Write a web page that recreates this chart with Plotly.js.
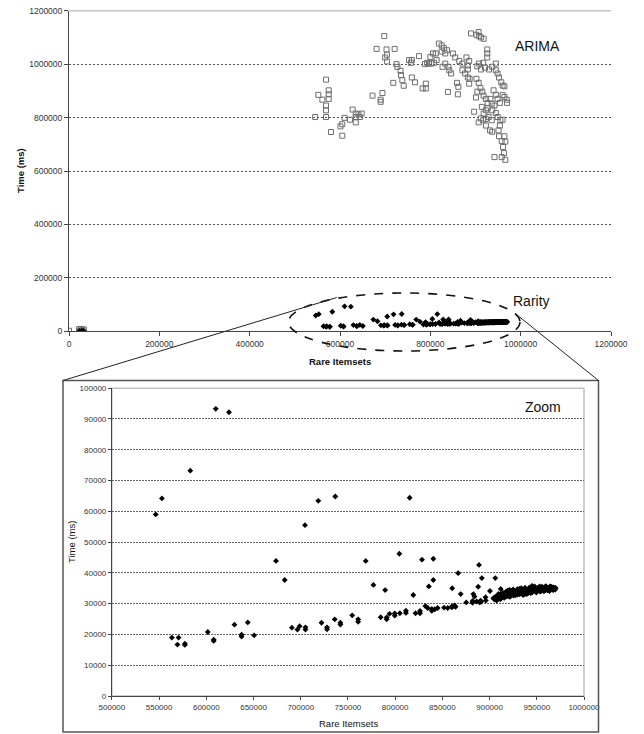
<!DOCTYPE html>
<html>
<head>
<meta charset="utf-8">
<script src="https://cdn.plot.ly/plotly-3.0.1.min.js"></script>
<style>html,body{margin:0;padding:0;background:#fff;}#chart{width:644px;height:734px;}</style>
</head>
<body>
<div id="chart"></div>
<script>
// ARIMA series (Rare Itemsets, Time ms)
const arimaX = [0,22000,24000,27000,30000,33000,
545000,552000,561000,569000,575000,575000,575000,569000,569000,569000,580000,601000,605000,605000,610000,622000,628000,635000,635000,635000,641000,648000,644000,
672000,690000,690000,694000,681000,698000,703000,704000,700000,721000,
704000,718000,725000,727000,734000,735000,738000,741000,753000,759000,
757000,759000,766000,775000,783000,790000,790000,788000,793000,797000,
800000,802000,806000,808000,812000,814000,819000,825000,830000,825000,
833000,837000,827000,833000,840000,842000,846000,839000,850000,855000,
864000,871000,880000,886000,859000,862000,861000,871000,877000,883000,
883000,883000,887000,886000,890000,902000,907000,908000,912000,918000,
897000,901000,904000,907000,904000,908000,912000,917000,921000,930000,
902000,907000,911000,915000,918000,926000,926000,926000,914000,918000,
923000,927000,912000,917000,923000,929000,936000,923000,937000,945000,
945000,949000,952000,957000,960000,964000,940000,945000,949000,954000,
942000,937000,945000,949000,955000,960000,954000,951000,960000,964000,
969000,970000,932000,937000,952000,964000,958000,966000,961000,942000,
958000,963000,966000,933000,936000,927000,923000];
const arimaY = [2000,8000,3000,9000,4000,7000,
802000,885000,867000,942000,902000,887000,870000,845000,827000,802000,746000,767000,775000,732000,799000,792000,830000,815000,802000,782000,812000,815000,802000,
882000,859000,867000,892000,1057000,1105000,1055000,1035000,1025000,1057000,
1010000,930000,1000000,990000,975000,959000,940000,919000,1015000,1015000,
1005000,950000,932000,1030000,909000,909000,927000,1000000,1005000,1002000,
1027000,1002000,1040000,1005000,1040000,1015000,1077000,1070000,1060000,1047000,
1040000,1052000,990000,1002000,990000,977000,965000,896000,1040000,1025000,
1012000,1002000,1025000,1012000,930000,915000,887000,977000,965000,995000,
980000,950000,945000,927000,1115000,1110000,1120000,1105000,1100000,1095000,
822000,875000,897000,782000,992000,1002000,980000,1005000,987000,980000,
945000,930000,910000,897000,882000,1055000,1040000,1025000,840000,815000,
827000,835000,797000,790000,795000,802000,790000,770000,990000,1002000,
977000,965000,950000,932000,920000,917000,902000,885000,870000,855000,
845000,827000,817000,802000,790000,792000,770000,752000,884000,877000,
867000,855000,752000,747000,730000,730000,712000,710000,690000,652000,
652000,667000,642000,870000,852000,855000,870000];

// Rarity series (Rare Itemsets, Time ms)
const rarityX = [23000,28000,32000,
546400,553000,583000,610000,624000,673800,704500,718600,736600,815400,768800,804400,828400,840400,888800,
563500,569400,570600,577300,577300,601600,607800,607800,629800,637300,637300,643900,650600,683000,
690600,696500,698800,705000,705000,722000,727800,727800,736000,742000,742000,754500,760800,760800,
777000,784700,789400,791000,791000,794000,799600,799600,805000,811400,811400,819200,821600,826300,826300,
832000,835700,834500,838800,838800,840400,842000,845000,851800,855700,860000,860000,860400,862000,863000,864000,
866700,869400,875300,882000,882000,882800,884000,886300,887900,889500,890500,891000,891800,895700,896000,
900400,904000,905000,906000,911800,
905000,906000,907000,908000,909000,910000,911000,912000,913000,914000,915000,916000,917000,918000,919000,920000,
921000,922000,923000,924000,925000,926000,927000,928000,929000,930000,931000,932000,933000,934000,935000,936000,
937000,938000,939000,940000,941000,942000,943000,944000,945000,945000,946000,947000,948000,949000,950000,951000,
952000,953000,954000,955000,956000,957000,958000,959000,960000,961000,962000,963000,964000,965000,966000,967000,
968000,969000,970000,
907500,909500,911500,913500,915500,917500,919500,921500,923500,925500,927500,929500,931500,933500,935500,937500,
939500,941500,943500,945500,947500,949500,951500,953500,955500,957500,959500,961500,963500,965500,967500,969500];
const rarityY = [1500,2500,2000,
59000,64200,73200,93300,92200,43900,55500,63400,64800,64400,43900,46200,44300,44600,42600,
18970,16700,18970,17000,16600,20800,18300,17900,23170,19900,19300,23900,19700,37700,
22200,21600,22700,22300,21600,23800,22300,21700,24900,23800,23200,26200,24900,24100,
36100,25600,34400,25500,24900,26700,26800,26100,26900,27700,27000,32800,26900,26900,27600,
29200,35600,28600,27700,28300,37700,28200,28600,28700,28600,29100,28800,35000,29200,29400,29000,
39900,33100,30400,30300,30900,33100,32300,30700,35500,30400,31000,30600,38300,32100,31000,
34100,31800,31400,38300,34800,
31500,32200,31800,32600,31600,32900,32200,31900,33000,32400,33400,32600,33800,32800,34200,33100,
34500,33300,32700,33900,34600,33200,34000,33500,32900,34300,33600,34900,33300,34100,33700,34500,
33000,34800,33900,34300,33500,35200,34000,34600,35800,33600,34900,34200,35400,34600,34000,35100,
34400,35600,34800,34200,35300,34600,35000,34300,35400,34800,35100,34400,35600,34900,35200,34600,
35300,34900,35100,
31000,33200,31400,33600,31900,32300,32500,32200,34200,32600,32800,34700,33000,35000,32800,35200,
33100,34700,33400,34900,35600,33600,34600,33900,35500,34000,35700,34300,34100,35500,34400,34600];

// tick values
const topTicks = [0,200000,400000,600000,800000,1000000,1200000];
const zoomXTicks = [500000,550000,600000,650000,700000,750000,800000,850000,900000,950000,1000000];
const zoomYTicks = [0,10000,20000,30000,40000,50000,60000,70000,80000,90000,100000];

const W = 644, H = 734;
const px = v => v / W;
const py = v => 1 - v / H;

const tickFontTop = {family: 'Liberation Sans, Arial, sans-serif', size: 8.5, color: '#333'};
const tickFontBot = {family: 'Liberation Sans, Arial, sans-serif', size: 8, color: '#333'};

const traces = [
  {x: arimaX, y: arimaY, xaxis: 'x', yaxis: 'y', type: 'scatter', mode: 'markers', name: 'ARIMA',
   marker: {symbol: 'square-open', size: 5, color: '#6e6e6e', line: {width: 1, color: '#6e6e6e'}}},
  {x: rarityX, y: rarityY, xaxis: 'x', yaxis: 'y', type: 'scatter', mode: 'markers', name: 'Rarity',
   marker: {symbol: 'diamond', size: 4.5, color: '#000'}},
  {x: rarityX, y: rarityY, xaxis: 'x2', yaxis: 'y2', type: 'scatter', mode: 'markers', name: 'Rarity zoom',
   marker: {symbol: 'diamond', size: 4.5, color: '#000'}}
];

const axisCommon = {showline: true, linecolor: '#444', linewidth: 1, ticks: 'outside', ticklen: 4,
  tickcolor: '#444', zeroline: false, tickformat: 'd', fixedrange: true};

const layout = {
  width: W, height: H,
  margin: {l: 0, r: 0, t: 0, b: 0},
  paper_bgcolor: '#fff', plot_bgcolor: 'rgba(0,0,0,0)',
  showlegend: false,
  xaxis: Object.assign({}, axisCommon, {domain: [px(69), px(611)], range: [0, 1200000], tickvals: topTicks,
    showgrid: false, anchor: 'y', tickfont: tickFontTop}),
  yaxis: Object.assign({}, axisCommon, {domain: [py(331.3), py(10.7)], range: [0, 1200000], tickvals: topTicks,
    showgrid: true, gridcolor: '#555', griddash: '2px,2px', gridwidth: 1, anchor: 'x', tickfont: tickFontTop}),
  xaxis2: Object.assign({}, axisCommon, {domain: [px(111.9), px(584)], range: [500000, 1000000], tickvals: zoomXTicks,
    showgrid: false, anchor: 'y2', tickfont: tickFontBot, ticklen: 3}),
  yaxis2: Object.assign({}, axisCommon, {domain: [py(696), py(388.2)], range: [0, 100000], tickvals: zoomYTicks,
    showgrid: true, gridcolor: '#666', griddash: '2px,1px', gridwidth: 1, anchor: 'x2', tickfont: tickFontBot, ticklen: 3}),
  shapes: [
    {type: 'line', xref: 'x domain', yref: 'y domain', x0: 0, x1: 1, y0: 1, y1: 1, line: {color: '#c4c4c4', width: 1.5}},
    {type: 'rect', xref: 'x2 domain', yref: 'y2 domain', x0: 0, x1: 1, y0: 0, y1: 1, layer: 'below', line: {color: '#c0c0c0', width: 1.5}},
    {type: 'rect', xref: 'paper', yref: 'paper', x0: px(63), x1: px(598.5), y0: py(732), y1: py(380.5), line: {color: '#555', width: 1.5}},
    {type: 'circle', xref: 'paper', yref: 'paper', x0: px(288.5), x1: px(520), y0: py(351), y1: py(293), line: {color: '#111', width: 1.6, dash: 'dash'}},
    {type: 'line', xref: 'paper', yref: 'paper', x0: px(336.8), y0: py(297.5), x1: px(63), y1: py(380.5), line: {color: '#222', width: 1}},
    {type: 'line', xref: 'paper', yref: 'paper', x0: px(515), y0: py(313.3), x1: px(598.5), y1: py(380.5), line: {color: '#222', width: 1}}
  ],
  annotations: [
    {text: 'ARIMA', xref: 'paper', yref: 'paper', x: px(537), y: py(46), showarrow: false, xanchor: 'center', yanchor: 'middle',
     font: {family: 'Liberation Sans, Arial, sans-serif', size: 14, color: '#111'}},
    {text: 'Rarity', xref: 'paper', yref: 'paper', x: px(531), y: py(301), showarrow: false, xanchor: 'center', yanchor: 'middle',
     font: {family: 'Liberation Sans, Arial, sans-serif', size: 14, color: '#111'}},
    {text: 'Zoom', xref: 'paper', yref: 'paper', x: px(543), y: py(407), showarrow: false, xanchor: 'center', yanchor: 'middle',
     font: {family: 'Liberation Sans, Arial, sans-serif', size: 14, color: '#111'}},
    {text: '<b>Time (ms)</b>', xref: 'paper', yref: 'paper', x: px(20), y: py(171), showarrow: false, textangle: -90,
     xanchor: 'center', yanchor: 'middle', font: {family: 'Liberation Sans, Arial, sans-serif', size: 9.5, color: '#111'}},
    {text: '<b>Rare Itemsets</b>', xref: 'paper', yref: 'paper', x: px(340), y: py(361), showarrow: false,
     xanchor: 'center', yanchor: 'middle', font: {family: 'Liberation Sans, Arial, sans-serif', size: 9.5, color: '#111'}},
    {text: 'Time (ms)', xref: 'paper', yref: 'paper', x: px(71), y: py(542), showarrow: false, textangle: -90,
     xanchor: 'center', yanchor: 'middle', font: {family: 'Liberation Sans, Arial, sans-serif', size: 9.5, color: '#111'}},
    {text: 'Rare Itemsets', xref: 'paper', yref: 'paper', x: px(348), y: py(723), showarrow: false,
     xanchor: 'center', yanchor: 'middle', font: {family: 'Liberation Sans, Arial, sans-serif', size: 9.5, color: '#111'}}
  ]
};

Plotly.newPlot('chart', traces, layout, {staticPlot: true, displayModeBar: false});
</script>
</body>
</html>
